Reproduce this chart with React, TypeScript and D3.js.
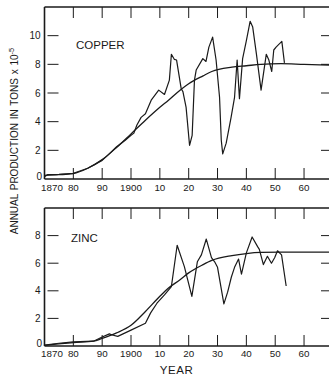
import React from "react";
import * as d3 from "d3";

// ---------- data ----------
const xTickYears = [1880, 1890, 1900, 1910, 1920, 1930, 1940, 1950, 1960];
const xTickLabels = ["1870", "80", "90", "1900", "10", "20", "30", "40", "50", "60"];
const xLabelYears = [1870, 1880, 1890, 1900, 1910, 1920, 1930, 1940, 1950, 1960];

const copperTicks = [0, 2, 4, 6, 8, 10];
const zincTicks = [0, 2, 4, 6, 8];

const copperYears = [
  1870, 1871, 1875, 1880, 1885, 1890, 1891.9, 1895, 1898, 1900, 1901, 1902, 1903.5, 1905, 1907,
  1909.6, 1911.6, 1913.3, 1914, 1915, 1915.8, 1917.4, 1918, 1919.1, 1920.3, 1921.2, 1922, 1922.6,
  1924.9, 1926, 1927, 1928.3, 1929.5, 1930.7, 1931.3, 1931.8, 1933, 1934.7, 1935.9, 1936.8,
  1937.6, 1938.7, 1940, 1941.3, 1942.2, 1943.5, 1945.1, 1946.9, 1947.8, 1948.8, 1949.5, 1950.3,
  1952.3, 1953.2,
];
const copperValues = [
  0.15, 0.3, 0.32, 0.4, 0.75, 1.3, 1.65, 2.25, 2.7, 3.05, 3.2, 3.75, 4.3, 4.55, 5.5,
  6.2, 5.9, 6.9, 8.7, 8.35, 8.3, 6.3, 6.1, 5.0, 2.35, 3.05, 6.9, 7.6,
  8.4, 8.2, 9.2, 9.9, 8.3, 5.7, 2.7, 1.75, 2.5, 4.3, 5.7, 8.3,
  5.6, 8.4, 9.65, 11.0, 10.6, 8.7, 6.2, 8.7, 8.3, 7.5, 9.0, 9.2,
  9.6, 8.1,
];
const copperTrendYears = [1870, 1875, 1880, 1885, 1890, 1895, 1900, 1905, 1910, 1913, 1917, 1920, 1925, 1928, 1935, 1940, 1945, 1952, 1960, 1969];
const copperTrendValues = [0.25, 0.3, 0.38, 0.75, 1.35, 2.2, 3.15, 4.1, 5.0, 5.5, 6.2, 6.65, 7.2, 7.5, 7.8, 7.9, 8.0, 8.05, 8.0, 7.95];

const zincYears = [
  1870, 1875, 1880, 1887, 1890, 1892.5, 1893.5, 1895.4, 1900, 1905, 1906.8, 1909, 1911.6, 1914,
  1916, 1918.5, 1921.1, 1923, 1924.4, 1926.1, 1927.9, 1929, 1930, 1932.2, 1933.5, 1934.8, 1935.9,
  1937.3, 1938.3, 1940, 1942, 1943.9, 1944.5, 1945.9, 1947.3, 1948.7, 1949.8, 1950.8, 1952.2, 1953.8,
];
const zincValues = [
  0.07, 0.2, 0.3, 0.35, 0.65, 0.88, 0.8, 0.7, 1.15, 1.65, 2.4, 3.1, 3.7, 4.3,
  7.3, 5.75, 3.6, 6.1, 6.6, 7.75, 6.4, 6.1, 5.7, 3.05, 3.9, 5.0, 5.7,
  6.3, 5.2, 6.75, 7.9, 7.2, 7.0, 5.9, 6.5, 6.0, 6.4, 6.9, 6.6, 4.35,
];
const zincTrendYears = [1870, 1880, 1887, 1890, 1895, 1900, 1905, 1910, 1913, 1917, 1920, 1925, 1928, 1935, 1940, 1945, 1952, 1969];
const zincTrendValues = [0.05, 0.25, 0.35, 0.55, 0.95, 1.5, 2.5, 3.6, 4.2, 4.8, 5.3, 5.9, 6.2, 6.55, 6.7, 6.78, 6.8, 6.8];

// ---------- layout ----------
const W = 329;
const H = 376;
const INK = "#1a1a1a";
const FONT = "'Liberation Sans', Arial, sans-serif";

const x = d3.scaleLinear().domain([1870, 1969]).range([44.5, 330]);

type PanelProps = {
  yScale: d3.ScaleLinear<number, number>;
  ticks: number[];
  title: string;
  titleX: number;
  titleY: number;
  years: number[];
  values: number[];
  trendYears: number[];
  trendValues: number[];
  labelBaseline: number;
};

function Panel(p: PanelProps) {
  const [y0, y1] = p.yScale.range();
  const bottom = y0;
  const top = y1;
  const line = d3
    .line<[number, number]>()
    .x((d) => x(d[0]))
    .y((d) => p.yScale(d[1]))
    .curve(d3.curveLinear);
  const smooth = d3
    .line<[number, number]>()
    .x((d) => x(d[0]))
    .y((d) => p.yScale(d[1]))
    .curve(d3.curveMonotoneX);
  const actual = p.years.map((yr, i) => [yr, p.values[i]] as [number, number]);
  const trend = p.trendYears.map((yr, i) => [yr, p.trendValues[i]] as [number, number]);
  const x0 = x(1870);
  return (
    <g>
      {/* frame */}
      <line x1={x0} x2={W} y1={top} y2={top} stroke={INK} strokeWidth={1.6} />
      <line x1={x0} x2={W} y1={bottom} y2={bottom} stroke={INK} strokeWidth={1.6} />
      <line x1={x0} x2={x0} y1={top} y2={bottom} stroke={INK} strokeWidth={1.6} />
      {/* x ticks top & bottom */}
      {xTickYears.map((yr) => (
        <g key={"xt" + yr}>
          <line x1={x(yr)} x2={x(yr)} y1={top} y2={top + 11} stroke={INK} strokeWidth={1} />
          <line x1={x(yr)} x2={x(yr)} y1={bottom} y2={bottom - 11} stroke={INK} strokeWidth={1} />
        </g>
      ))}
      {/* y ticks left & right */}
      {p.ticks
        .filter((t) => t > 0)
        .map((t) => (
          <g key={"yt" + t}>
            <line x1={x0 + 3} x2={x0 + 14} y1={p.yScale(t)} y2={p.yScale(t)} stroke={INK} strokeWidth={1} />
            <line x1={321} x2={W} y1={p.yScale(t)} y2={p.yScale(t)} stroke={INK} strokeWidth={1} />
          </g>
        ))}
      {/* y tick labels */}
      {p.ticks.map((t) => (
        <text
          key={"yl" + t}
          x={t === 0 ? 42 : 40.5}
          y={t === 0 ? p.yScale(t) + 0.5 : p.yScale(t) + 3.5}
          textAnchor="end"
          fontSize={10}
          fontFamily={FONT}
          fill={INK}
        >
          {t}
        </text>
      ))}
      {/* x tick labels */}
      {xLabelYears.map((yr, i) => (
        <text
          key={"xl" + yr}
          x={i === 0 ? x(yr) + 7.5 : x(yr)}
          y={p.labelBaseline}
          textAnchor="middle"
          fontSize={9.8}
          fontFamily={FONT}
          fill={INK}
        >
          {xTickLabels[i]}
        </text>
      ))}
      {/* title */}
      <text x={p.titleX} y={p.titleY} fontSize={11.5} fontFamily={FONT} fill={INK}>
        {p.title}
      </text>
      {/* curves */}
      <path d={smooth(trend) || ""} fill="none" stroke={INK} strokeWidth={1.3} />
      <path d={line(actual) || ""} fill="none" stroke={INK} strokeWidth={1.2} strokeLinejoin="round" />
    </g>
  );
}

export default function App() {
  const yCopper = d3.scaleLinear().domain([0, 12]).range([179, 7]);
  const yZinc = d3.scaleLinear().domain([0, 10]).range([346, 208]);
  return (
    <div style={{ position: "absolute", left: 0, top: 0 }}>
      <svg width={W} height={H} style={{ display: "block", background: "#fff" }}>
        <rect width={W} height={H} fill="#fff" />
        <Panel
          yScale={yCopper}
          ticks={copperTicks}
          title="COPPER"
          titleX={76}
          titleY={48.5}
          years={copperYears}
          values={copperValues}
          trendYears={copperTrendYears}
          trendValues={copperTrendValues}
          labelBaseline={190.5}
        />
        <Panel
          yScale={yZinc}
          ticks={zincTicks}
          title="ZINC"
          titleX={71}
          titleY={241.5}
          years={zincYears}
          values={zincValues}
          trendYears={zincTrendYears}
          trendValues={zincTrendValues}
          labelBaseline={356.5}
        />
        <text
          transform="translate(17.5,141) rotate(-90)"
          textAnchor="middle"
          fontSize={10}
          fontFamily={FONT}
          fill={INK}
          wordSpacing={1}
        >
          ANNUAL  PRODUCTION  IN  TONS x 10
          <tspan fontSize={7.5} dy={-4}>-5</tspan>
        </text>
        <text x={176.5} y={373.5} textAnchor="middle" fontSize={11.5} fontFamily={FONT} fill={INK} letterSpacing={0.6}>
          YEAR
        </text>
      </svg>
    </div>
  );
}
